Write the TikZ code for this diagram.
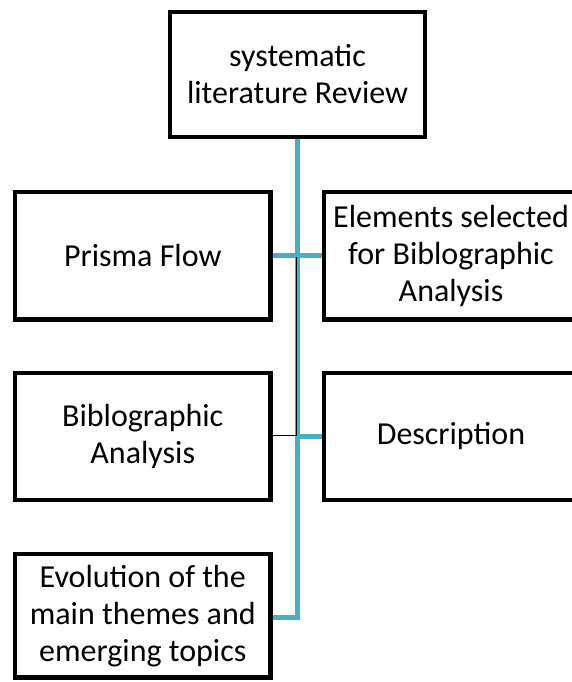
\documentclass[tikz,border=0pt]{standalone}
\usepackage{fontspec}
\setmainfont{Carlito}
\definecolor{linkblue}{HTML}{4BACC6}
\begin{document}
\begin{tikzpicture}[x=1pt,y=-1pt,
  box/.style={draw=black,line width=4.5pt,fill=white,align=center,inner sep=0pt,
    font=\fontsize{32}{37}\selectfont},
  bluelink/.style={draw=linkblue,line width=5pt},
  thinlink/.style={draw=black,line width=1.4pt}]
\useasboundingbox (0,0) rectangle (571,682);
\fill[white] (0,0) rectangle (571,682);
% nodes
\node[box,minimum width=255pt,minimum height=125pt] (top) at (297.5,74.5) {systematic\\literature Review};
\node[box,minimum width=255.5pt,minimum height=127.5pt] (prisma) at (142.75,255.75) {Prisma Flow};
\node[box,minimum width=254pt,minimum height=127.5pt] (elements) at (451,255.75) {Elements selected\\for Biblographic\\Analysis};
\node[box,minimum width=255.5pt,minimum height=127pt] (biblio) at (142.75,436.5) {Biblographic\\Analysis};
\node[box,minimum width=254pt,minimum height=127pt] (desc) at (451,436.5) {Description};
\node[box,minimum width=255.5pt,minimum height=123.5pt] (evol) at (142.75,615.75) {Evolution of the\\main themes and\\emerging topics};
% junctions
\coordinate (jbot) at (297.5,617.5);
\coordinate (jtop) at (297.5,255);
\coordinate (jdesc) at (297.5,436);
\coordinate (k1) at (296.5,257);
\coordinate (k2) at (296.5,435.5);
% blue connectors
\draw[bluelink] (top.south) -- (jbot) -- (evol.east |- jbot);
\draw[bluelink] (prisma.east |- jtop) -- (elements.west |- jtop);
\draw[bluelink] (jdesc) -- (desc.west |- jdesc);
% thin black connector
\draw[thinlink] (k1) -- (k2) -- (biblio.east |- k2);
\end{tikzpicture}
\end{document}
